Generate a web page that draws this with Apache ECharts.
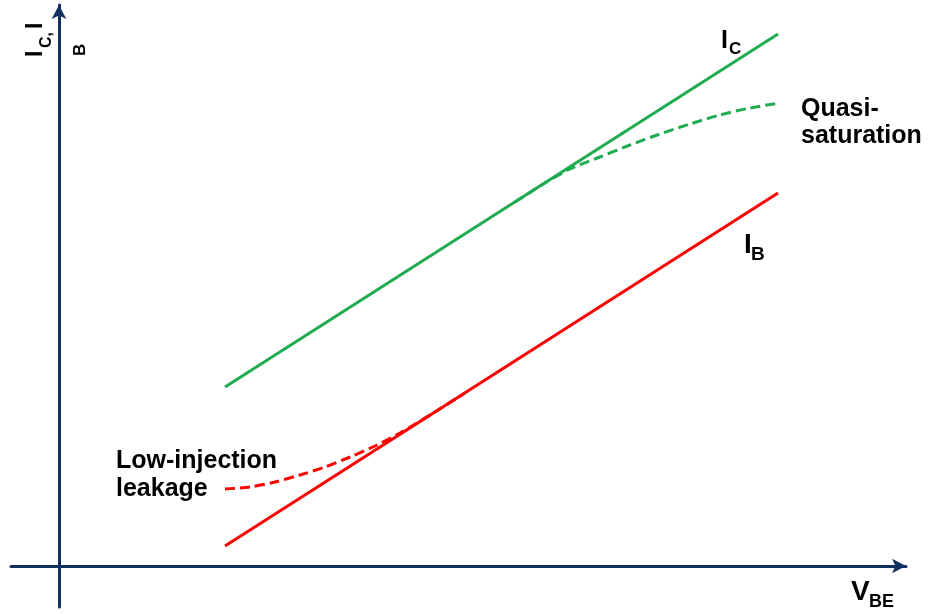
<!DOCTYPE html>
<html>
<head>
<meta charset="utf-8">
<script src="https://cdn.jsdelivr.net/npm/echarts@6/dist/echarts.min.js"></script>
<style>
  html, body { margin: 0; padding: 0; background: #fff; }
  #chart { width: 929px; height: 614px; }
</style>
</head>
<body>
<div id="chart"></div>
<script>
// arbitrary units, origin at the axes crossing
const xRange = [-0.48, 8.47]
const yRange = [-0.41, 5.61]

// ideal I_C and I_B lines
const idealVbe = [1.66, 7.19]
const icIdeal = [1.79, 5.32]
const ibIdeal = [0.20, 3.73]

// quasi-saturation roll-off of I_C
const quasiVbe = [4.56, 4.86, 5.11, 5.41, 5.71, 6.01, 6.31, 6.61, 6.91, 7.21]
const quasiIc = [3.64, 3.83, 3.97, 4.09, 4.21, 4.32, 4.42, 4.51, 4.58, 4.63]

// low-injection leakage of I_B
const leakVbe = [1.66, 1.91, 2.16, 2.41, 2.66, 2.91, 3.16, 3.41, 3.71, 4.06]
const leakIb = [0.77, 0.79, 0.84, 0.91, 0.99, 1.09, 1.20, 1.33, 1.51, 1.73]

const GREEN = '#1fab50'
const RED = '#ff0000'
const AXIS = '#10305e'
const FONT = '"Liberation Sans", Arial, sans-serif'

const pairs = (xs, ys) => xs.map((x, i) => [x, ys[i]])

const chart = echarts.init(document.getElementById('chart'))

const axisBase = {
  type: 'value',
  axisTick: { show: false },
  axisLabel: { show: false },
  splitLine: { show: false },
  axisLine: {
    show: true,
    onZero: true,
    symbol: ['none', 'arrow'],
    symbolSize: [11, 14],
    lineStyle: { color: AXIS, width: 3 },
  },
}

// plain bold text element
function txt(x, y, text, size, extra) {
  return Object.assign({
    type: 'text',
    x: x,
    y: y,
    style: {
      text: text,
      fontFamily: FONT,
      fontWeight: 'bold',
      fontSize: size,
      fill: '#000',
    },
  }, extra || {})
}

const rot = { rotation: Math.PI / 2 }

chart.setOption({
  animation: false,
  grid: { left: 11, right: 23, top: 5, bottom: 7 },
  xAxis: Object.assign({}, axisBase, { min: xRange[0], max: xRange[1] }),
  yAxis: Object.assign({}, axisBase, { min: yRange[0], max: yRange[1] }),
  series: [
    {
      type: 'line', data: pairs(idealVbe, icIdeal), showSymbol: false,
      lineStyle: { color: GREEN, width: 3 },
    },
    {
      type: 'line', data: pairs(idealVbe, ibIdeal), showSymbol: false,
      lineStyle: { color: RED, width: 3 },
    },
    {
      type: 'line', data: pairs(quasiVbe, quasiIc), showSymbol: false, smooth: 0.3,
      lineStyle: { color: GREEN, width: 3, type: [10, 5] },
    },
    {
      type: 'line', data: pairs(leakVbe, leakIb), showSymbol: false, smooth: 0.3,
      lineStyle: { color: RED, width: 3, type: [10, 5] },
    },
  ],
  graphic: [
    // I_C
    txt(721, 29, 'I', 25),
    txt(729, 41, 'C', 17),
    // I_B
    txt(744, 231, 'I', 28),
    txt(751, 245, 'B', 19),
    // V_BE
    txt(851, 578, 'V', 28),
    txt(869, 593, 'BE', 18),
    // notes
    txt(801, 96, '', 25, { style: { text: 'Quasi-\nsaturation', fontFamily: FONT, fontWeight: 'bold', fontSize: 25, lineHeight: 27, fill: '#000' } }),
    txt(116, 447, '', 25, { style: { text: 'Low-injection\nleakage', fontFamily: FONT, fontWeight: 'bold', fontSize: 25, lineHeight: 28, fill: '#000' } }),
    // y-axis title, rotated
    txt(24, 57, 'I', 23, rot),
    txt(39, 48, 'C,', 16, rot),
    txt(24, 29, 'I', 23, rot),
    txt(72, 56, 'B', 17, rot),
  ],
})
</script>
</body>
</html>
